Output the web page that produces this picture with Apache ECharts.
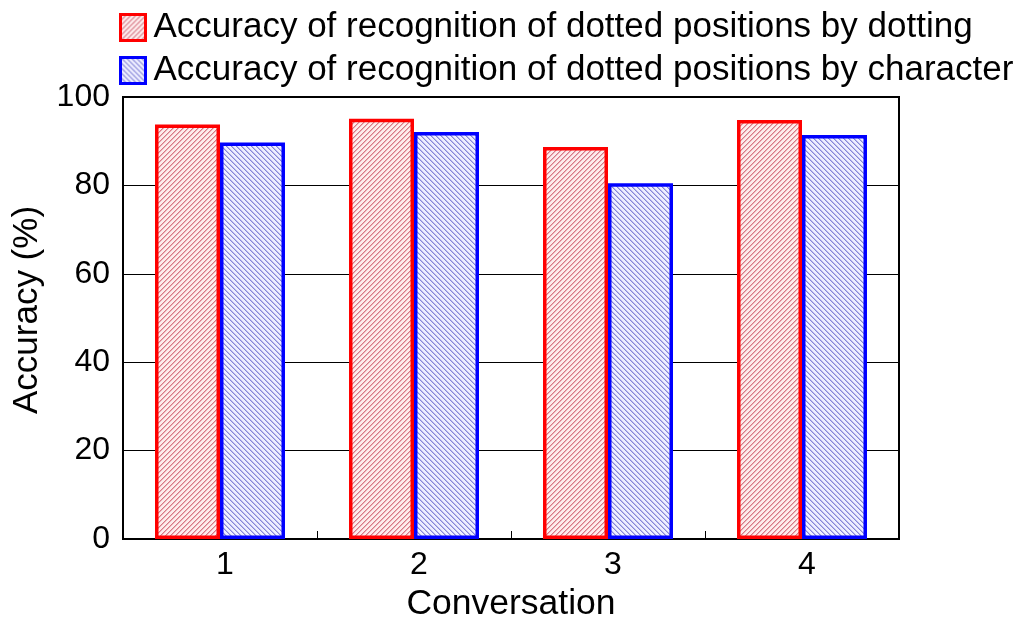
<!DOCTYPE html>
<html>
<head>
<meta charset="utf-8">
<script src="https://cdn.jsdelivr.net/npm/echarts@6/dist/echarts.min.js"></script>
<style>
html,body{margin:0;padding:0;background:#fff;}
#chart{width:1029px;height:621px;}
</style>
</head>
<body>
<div id="chart"></div>
<script>
const categories = ['1', '2', '3', '4'];
const dottingValues = [93.8, 95.1, 88.7, 94.8];
const characterValues = [89.7, 92.1, 80.5, 91.4];
const seriesNames = [
  'Accuracy of recognition of dotted positions by dotting',
  'Accuracy of recognition of dotted positions by character'
];
const yTicks = [0, 20, 40, 60, 80, 100];

function makePattern(rgb, bg, forward) {
  const s = 5;
  const c = document.createElement('canvas');
  c.width = s; c.height = s;
  const ctx = c.getContext('2d');
  const img = ctx.createImageData(s, s);
  for (let y = 0; y < s; y++) {
    for (let x = 0; x < s; x++) {
      const k = forward ? (x + y) % s : ((x - y) % s + s) % s;
      let a = 0;
      if (k === 0) a = 0.7; else if (k === 1) a = 0.35;
      const i = (y * s + x) * 4;
      for (let j = 0; j < 3; j++) img.data[i + j] = Math.round(bg[j] * (1 - a) + rgb[j] * a);
      img.data[i + 3] = 255;
    }
  }
  ctx.putImageData(img, 0, 0);
  return { image: c, repeat: 'repeat' };
}

const redPattern = makePattern([200, 70, 90], [253, 236, 236], true);
const bluePattern = makePattern([90, 90, 200], [238, 238, 255], false);

const chart = echarts.init(document.getElementById('chart'));
const font = 'Arial, "Liberation Sans", sans-serif';
chart.setOption({
  animation: false,
  backgroundColor: '#fff',
  textStyle: { fontFamily: font },
  legend: {
    orient: 'vertical',
    left: 114,
    top: 5,
    icon: 'rect',
    itemWidth: 25,
    itemHeight: 26,
    itemGap: 8,
    itemStyle: { borderWidth: 3 },
    textStyle: { fontSize: 35, color: '#000', fontFamily: font, padding: [0, 0, 0, 3] },
    data: seriesNames
  },
  grid: {
    left: 123, right: 130, top: 97, bottom: 82,
    outerBoundsMode: 'none',
    containLabel: false,
    show: true, borderColor: '#000', borderWidth: 2, backgroundColor: 'transparent'
  },
  xAxis: {
    type: 'category',
    data: categories,
    name: 'Conversation',
    nameLocation: 'middle',
    nameGap: 46,
    nameTextStyle: { fontSize: 35.5, color: '#000', fontFamily: font },
    axisLine: { lineStyle: { color: '#000', width: 2 } },
    axisTick: { show: true, inside: true, length: 8, lineStyle: { color: '#000', width: 1 } },
    axisLabel: { fontSize: 32, color: '#000', margin: 10, fontFamily: font, padding: [0, 0, 0, 10] }
  },
  yAxis: {
    type: 'value',
    min: 0, max: 100, interval: 20,
    name: 'Accuracy (%)',
    nameLocation: 'middle',
    nameGap: 78,
    nameTextStyle: { fontSize: 35, color: '#000', fontFamily: font, padding: [0, 0, 0, 16] },
    axisLine: { show: true, lineStyle: { color: '#000', width: 2 } },
    axisTick: { show: false },
    axisLabel: {
      fontSize: 32, color: '#000', margin: 13, fontFamily: font,
      formatter: v => yTicks.includes(v) ? String(v) : ''
    },
    splitLine: { show: true, lineStyle: { color: '#000', width: 1 } }
  },
  series: [
    {
      name: seriesNames[0],
      type: 'bar',
      data: dottingValues,
      barGap: '0%',
      barCategoryGap: '33%',
      itemStyle: { color: redPattern, borderColor: '#ff0000', borderWidth: 3.5 }
    },
    {
      name: seriesNames[1],
      type: 'bar',
      data: characterValues,
      barGap: '0%',
      barCategoryGap: '33%',
      itemStyle: { color: bluePattern, borderColor: '#0000ff', borderWidth: 3.5 }
    }
  ]
});
</script>
</body>
</html>
